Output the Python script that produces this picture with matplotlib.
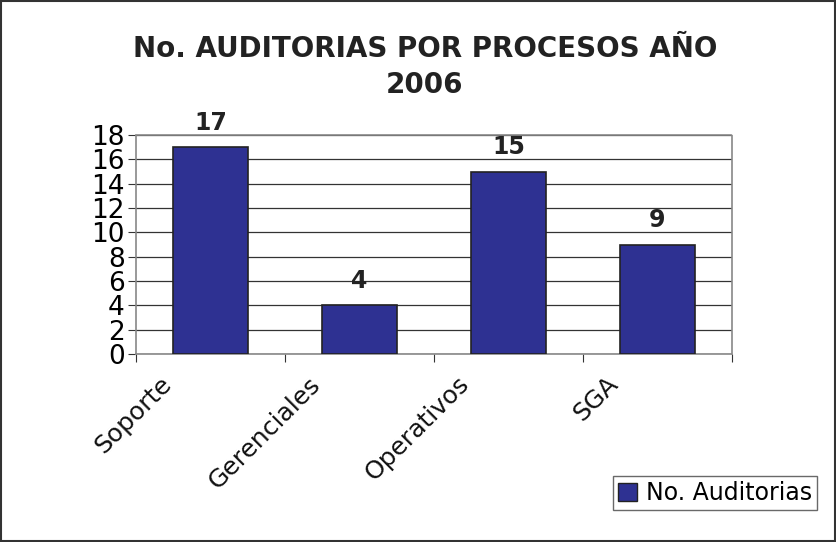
import matplotlib
matplotlib.use("Agg")
import matplotlib.pyplot as plt
import matplotlib.patches as mpatches

plt.rcParams['font.family'] = ['DejaVu Sans']

categorias = ["Soporte", "Gerenciales", "Operativos", "SGA"]
auditorias = [17, 4, 15, 9]
y_ticks = list(range(0, 19, 2))
titulo = "No. AUDITORIAS POR PROCESOS AÑO\n2006"
serie = "No. Auditorias"

color_barra = "#2E3192"

fig = plt.figure(figsize=(8.37, 5.42), dpi=100)
ax = fig.add_axes([136/837, 1-354/542, (732-136)/837, (354-135)/542])

x = range(len(categorias))
bars = ax.bar(x, auditorias, width=0.5, color=color_barra, edgecolor="#222222",
              linewidth=1.2, zorder=3, label=serie)
for b, v in zip(bars, auditorias):
    ax.annotate(str(v), xy=(b.get_x() + b.get_width()/2, v), xytext=(0, 9),
                textcoords="offset points", ha="center", va="bottom",
                fontsize=17, fontweight="bold", color="#222222")

ax.set_xlim(-0.5, len(categorias) - 0.5)
ax.set_ylim(0, 18)
ax.set_yticks(y_ticks)
ax.set_yticklabels([str(t) for t in y_ticks], fontsize=19)
ax.yaxis.grid(True, color="#333333", linewidth=0.9, zorder=0)
ax.set_axisbelow(True)

ax.set_xticks([i - 0.5 for i in range(len(categorias) + 1)])
ax.set_xticklabels([])
ax.tick_params(axis="x", length=6, color="#333333")
ax.tick_params(axis="y", length=6, color="#333333", pad=2)
for i, c in enumerate(categorias):
    ax.annotate(c, xy=(i, 0), xytext=(-37, -13), textcoords="offset points",
                rotation=45, ha="right", va="top", rotation_mode="anchor",
                fontsize=18, color="#111111")

for s in ax.spines.values():
    s.set_color("#888888")
    s.set_linestyle((0, (1, 1)))
    s.set_linewidth(1.2)

fig.text(425/837, 1-35/542, titulo, ha="center", va="top", fontsize=20,
         fontweight="bold", color="#222222", linespacing=1.35)

h = mpatches.Patch(facecolor=color_barra, edgecolor="#222222", label=serie)
leg = fig.legend(handles=[h], loc="center", bbox_to_anchor=(715/837, 1-493/542),
                 fontsize=17, frameon=True, fancybox=False, handlelength=0.8,
                 handleheight=0.8, handletextpad=0.4, borderpad=0.2)
leg.get_frame().set_edgecolor("#444444")
leg.get_frame().set_linewidth(1.0)

fig.patches.append(mpatches.Rectangle((0.001, 0.001), 0.997, 0.997, transform=fig.transFigure,
                                      fill=False, edgecolor="#333333", linewidth=1.5))

fig.savefig("out.png", dpi=100)
